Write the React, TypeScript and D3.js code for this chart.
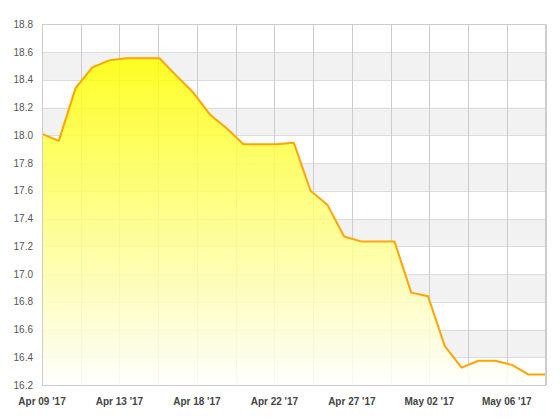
import React, { useEffect, useRef } from 'react';
import * as d3 from 'd3';

// daily closing values, Apr 09 2017 .. May 09 2017
const startDate = new Date(2017, 3, 9);
const dayCount = 31;
const values: number[] = [
  18.01, 17.96, 18.34, 18.49, 18.54, 18.555, 18.555, 18.555, 18.43, 18.31,
  18.15, 18.05, 17.935, 17.935, 17.935, 17.947, 17.6, 17.5, 17.27, 17.235,
  17.235, 17.235, 16.866, 16.84, 16.48, 16.325, 16.375, 16.375, 16.345, 16.275,
  16.275
];
const yTicks: number[] = [16.2, 16.4, 16.6, 16.8, 17.0, 17.2, 17.4, 17.6, 17.8, 18.0, 18.2, 18.4, 18.6, 18.8];
const xGridCount = 13;

export default function App() {
  const svgRef = useRef<SVGSVGElement>(null);

  useEffect(() => {
    if (!svgRef.current) return;
    const svg = d3.select(svgRef.current);
    svg.selectAll('*').remove();

    const left = 42, right = 545.5, top = 24.3, bottom = 385;
    const dates = d3.range(dayCount).map(i => d3.timeDay.offset(startDate, i));

    const x = d3.scaleTime()
      .domain([dates[0], dates[dates.length - 1]])
      .range([left, right]);
    const y = d3.scaleLinear()
      .domain([16.2, 18.8])
      .range([bottom, top]);

    const [d0, d1] = x.domain().map(d => d.getTime());
    const xTicks = d3.range(xGridCount + 1).map(i => new Date(d0 + (i * (d1 - d0)) / xGridCount));

    // alternating bands
    svg.append('g')
      .selectAll('rect')
      .data(yTicks.slice(0, -1).filter((_, i) => i % 2 === 1))
      .join('rect')
      .attr('x', left)
      .attr('width', right - left)
      .attr('y', d => y(d + 0.2))
      .attr('height', d => y(d) - y(d + 0.2))
      .attr('fill', '#f2f2f2');

    // horizontal grid
    svg.append('g')
      .selectAll('line')
      .data(yTicks)
      .join('line')
      .attr('x1', left)
      .attr('x2', right)
      .attr('y1', d => Math.round(y(d)) + 0.5)
      .attr('y2', d => Math.round(y(d)) + 0.5)
      .attr('stroke', '#dcdcdc');

    // vertical grid
    svg.append('g')
      .selectAll('line')
      .data(xTicks)
      .join('line')
      .attr('x1', d => Math.round(x(d)) + 0.5)
      .attr('x2', d => Math.round(x(d)) + 0.5)
      .attr('y1', top)
      .attr('y2', bottom)
      .attr('stroke', '#cccccc');

    // gradient fill
    const grad = svg.append('defs')
      .append('linearGradient')
      .attr('id', 'areaGrad')
      .attr('x1', 0).attr('y1', 0)
      .attr('x2', 0).attr('y2', 1);
    grad.append('stop').attr('offset', '0%').attr('stop-color', '#ffff00');
    grad.append('stop').attr('offset', '100%').attr('stop-color', '#ffffff');

    const area = d3.area<number>()
      .x((_, i) => x(dates[i]))
      .y0(bottom)
      .y1(d => y(d));
    svg.append('path')
      .datum(values)
      .attr('d', area)
      .attr('fill', 'url(#areaGrad)')
      .attr('fill-opacity', 0.85);

    const line = d3.line<number>()
      .x((_, i) => x(dates[i]))
      .y(d => y(d));
    svg.append('path')
      .datum(values)
      .attr('d', line)
      .attr('fill', 'none')
      .attr('stroke', '#ffa500')
      .attr('stroke-width', 2)
      .attr('stroke-linejoin', 'round');

    // plot border
    svg.append('rect')
      .attr('x', left + 0.5)
      .attr('y', Math.round(top) + 0.5)
      .attr('width', right - left - 0.5)
      .attr('height', bottom - Math.round(top))
      .attr('fill', 'none')
      .attr('stroke', '#cccccc');

    // y labels
    svg.append('g')
      .selectAll('text')
      .data(yTicks)
      .join('text')
      .attr('x', 33)
      .attr('y', d => y(d))
      .attr('dy', '0.35em')
      .attr('text-anchor', 'end')
      .attr('font-family', 'Liberation Sans, Arial, sans-serif')
      .attr('font-size', 10)
      .attr('fill', '#555555')
      .text(d => d.toFixed(1));

    // x labels, every other gridline
    const fmt = d3.timeFormat("%b %d '%y");
    svg.append('g')
      .selectAll('text')
      .data(xTicks.filter((_, i) => i % 2 === 0 && i < xGridCount))
      .join('text')
      .attr('x', d => x(d))
      .attr('y', 405)
      .attr('text-anchor', 'middle')
      .attr('font-family', 'Liberation Sans, Arial, sans-serif')
      .attr('font-size', 10)
      .attr('font-weight', 'bold')
      .attr('fill', '#444444')
      .text(d => fmt(d));
  }, []);

  return (
    <svg
      ref={svgRef}
      width={560}
      height={420}
      style={{ position: 'absolute', left: 0, top: 0, background: '#ffffff' }}
    />
  );
}
